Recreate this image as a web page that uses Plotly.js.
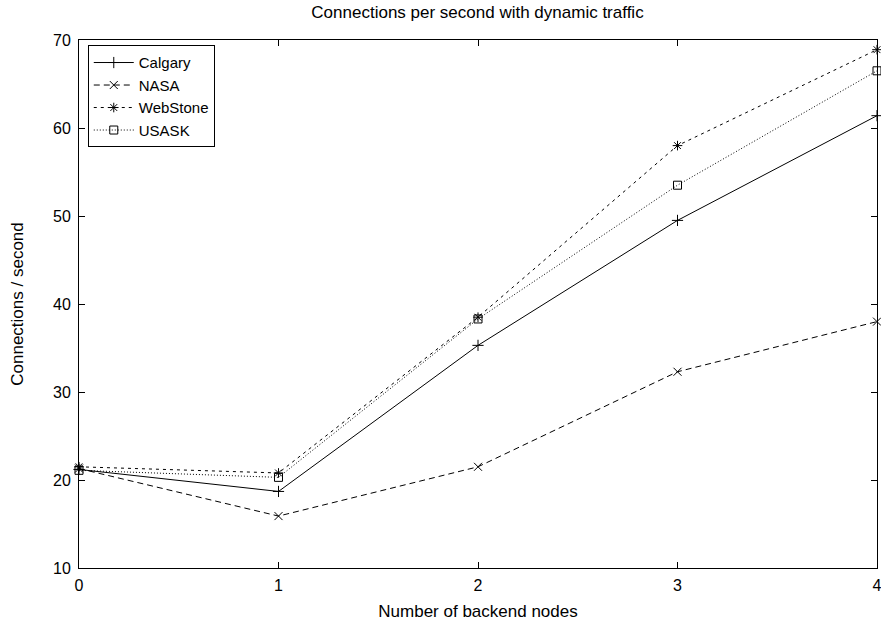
<!DOCTYPE html>
<html>
<head>
<meta charset="utf-8">
<script src="https://cdn.plot.ly/plotly-3.0.1.min.js"></script>
<style>html,body{margin:0;padding:0;background:#fff;}#chart{width:881px;height:625px;}</style>
</head>
<body>
<div id="chart"></div>
<script>
const nodes = [0, 1, 2, 3, 4];
const calgary = [21.2, 18.7, 35.3, 49.5, 61.4];
const nasa = [21.3, 15.9, 21.5, 32.3, 38.0];
const webstone = [21.5, 20.8, 38.5, 58.0, 68.9];
const usask = [21.1, 20.3, 38.3, 53.5, 66.5];
const seriesNames = ['Calgary', 'NASA', 'WebStone', 'USASK'];
const xTicks = [0, 1, 2, 3, 4];
const yTicks = [10, 20, 30, 40, 50, 60, 70];

const styles = [
  {dash: 'solid', symbol: 'cross-thin-open'},
  {dash: '6px,4px', symbol: 'x-thin-open'},
  {dash: '3px,4px', symbol: 'asterisk-open'},
  {dash: '1px,2px', symbol: 'square-open'}
];
const values = [calgary, nasa, webstone, usask];

const traces = values.map((v, i) => ({
  x: nodes, y: v, name: seriesNames[i], type: 'scatter', mode: 'lines+markers',
  line: {color: '#000', width: 1, dash: styles[i].dash},
  marker: {symbol: styles[i].symbol, size: 8, color: '#000', line: {color: '#000', width: 1}},
  cliponaxis: false
}));

const fam = 'Liberation Sans, Arial, sans-serif';
const tickFont = {family: fam, size: 16, color: '#000'};
const titleFont = {family: fam, size: 17, color: '#000'};
const layout = {
  width: 881, height: 625,
  margin: {l: 79, r: 4, t: 40, b: 57},
  paper_bgcolor: '#fff', plot_bgcolor: '#fff',
  font: tickFont,
  title: {text: 'Connections per second with dynamic traffic', x: 0.542, xanchor: 'center', y: 0.98, yanchor: 'middle', font: titleFont},
  xaxis: {
    range: [0, 4], tickvals: xTicks, ticktext: xTicks.map(String),
    ticks: 'inside', ticklen: 6, tickcolor: '#000', mirror: 'ticks',
    showline: true, linecolor: '#000', linewidth: 1, showgrid: false, zeroline: false,
    title: {text: 'Number of backend nodes', font: titleFont, standoff: 11},
    tickfont: tickFont, ticklabelstandoff: 3, ticklabeloverflow: 'allow'
  },
  yaxis: {
    range: [10, 70], tickvals: yTicks, ticktext: yTicks.map(String),
    ticks: 'inside', ticklen: 6, tickcolor: '#000', mirror: 'ticks',
    showline: true, linecolor: '#000', linewidth: 1, showgrid: false, zeroline: false,
    title: {text: 'Connections / second', font: titleFont, standoff: 25},
    tickfont: tickFont, ticklabelstandoff: 4
  },
  legend: {
    x: 0.011, y: 0.99, xanchor: 'left', yanchor: 'top',
    bordercolor: '#000', borderwidth: 1, bgcolor: '#fff',
    font: {family: fam, size: 15, color: '#000'},
    tracegroupgap: 0, itemwidth: 40
  },
  showlegend: true
};
Plotly.newPlot('chart', traces, layout, {displayModeBar: false, staticPlot: true});
</script>
</body>
</html>
